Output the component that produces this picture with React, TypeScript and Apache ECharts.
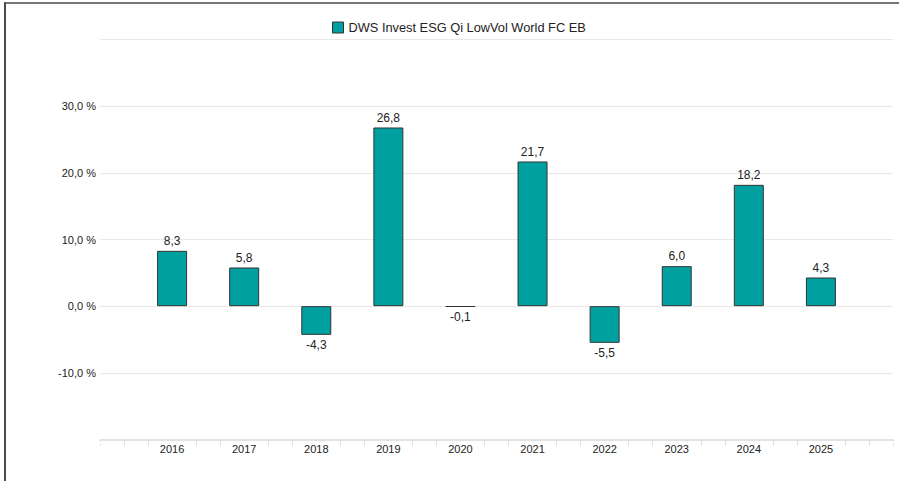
import React, { useEffect, useRef } from "react";
import * as echarts from "echarts";

const seriesName = "DWS Invest ESG Qi LowVol World FC EB";
const years = [2016, 2017, 2018, 2019, 2020, 2021, 2022, 2023, 2024, 2025];
const returns = [8.3, 5.8, -4.3, 26.8, -0.1, 21.7, -5.5, 6.0, 18.2, 4.3];
const yTicks = [-20, -10, 0, 10, 20, 30, 40];
const xRange = [2015, 2026];

const fmt = (v: number) => v.toFixed(1).replace(".", ",");

export default function App() {
  const ref = useRef<HTMLDivElement>(null);
  useEffect(() => {
    document.body.style.margin = "0";
    const chart = echarts.init(ref.current!, null, { renderer: "svg" });
    const font = "Liberation Sans, Arial, sans-serif";
    chart.setOption({
      animation: false,
      textStyle: { fontFamily: font },
      legend: {
        left: 327,
        top: 16,
        itemWidth: 11,
        itemHeight: 11,
        itemGap: 6,
        icon: "rect",
        itemStyle: { borderColor: "#333", borderWidth: 1 },
        textStyle: { fontSize: 12.8, color: "#222", fontFamily: font },
        data: [seriesName],
      },
      grid: { left: 100, right: 4, top: 39.5, bottom: 41.5, containLabel: false },
      xAxis: {
        type: "value",
        min: xRange[0],
        max: xRange[1],
        interval: 1,
        axisLine: { show: true, onZero: false, lineStyle: { color: "#e3e3e3", width: 2 } },
        axisTick: { show: true, length: 6, lineStyle: { color: "#dcdcdc" } },
        minorTick: { show: true, splitNumber: 3, length: 6, lineStyle: { color: "#dcdcdc" } },
        splitLine: { show: false },
        axisLabel: {
          margin: 2,
          fontSize: 11,
          color: "#222",
          backgroundColor: "#fff",
          padding: [2, 3, 0, 3],
          formatter: (v: number) =>
            v === xRange[0] || v === xRange[1] ? "" : String(Math.round(v)),
        },
      },
      yAxis: {
        type: "value",
        min: yTicks[0],
        max: yTicks[yTicks.length - 1],
        interval: 10,
        axisLine: { show: false },
        axisTick: { show: false },
        splitLine: { lineStyle: { color: "#e8e8e8", width: 1 } },
        axisLabel: {
          margin: 4,
          fontSize: 11,
          color: "#222",
          formatter: (v: number) =>
            v === yTicks[0] || v === yTicks[yTicks.length - 1] ? "" : fmt(v) + " %",
        },
      },
      series: [
        {
          name: seriesName,
          type: "bar",
          barWidth: 30,
          itemStyle: { color: "#00a0a0", borderColor: "#333", borderWidth: 1 },
          label: {
            show: true,
            fontSize: 12,
            color: "#222",
            distance: 4,
            formatter: (p: any) => fmt(p.value[1]),
          },
          data: years.map((y, i) => ({
            value: [y, returns[i]],
            label: { position: returns[i] < 0 ? "bottom" : "top" },
          })),
        },
      ],
      graphic: [
        {
          type: "line",
          shape: { x1: 5, y1: 2.5, x2: 5, y2: 481 },
          style: { stroke: "#4a4a4a", lineWidth: 2 },
        },
        {
          type: "line",
          shape: { x1: 4, y1: 3, x2: 899, y2: 3 },
          style: { stroke: "#4a4a4a", lineWidth: 1.5 },
        },
      ],
    });
    return () => chart.dispose();
  }, []);
  return <div ref={ref} style={{ width: 899, height: 481 }} />;
}
